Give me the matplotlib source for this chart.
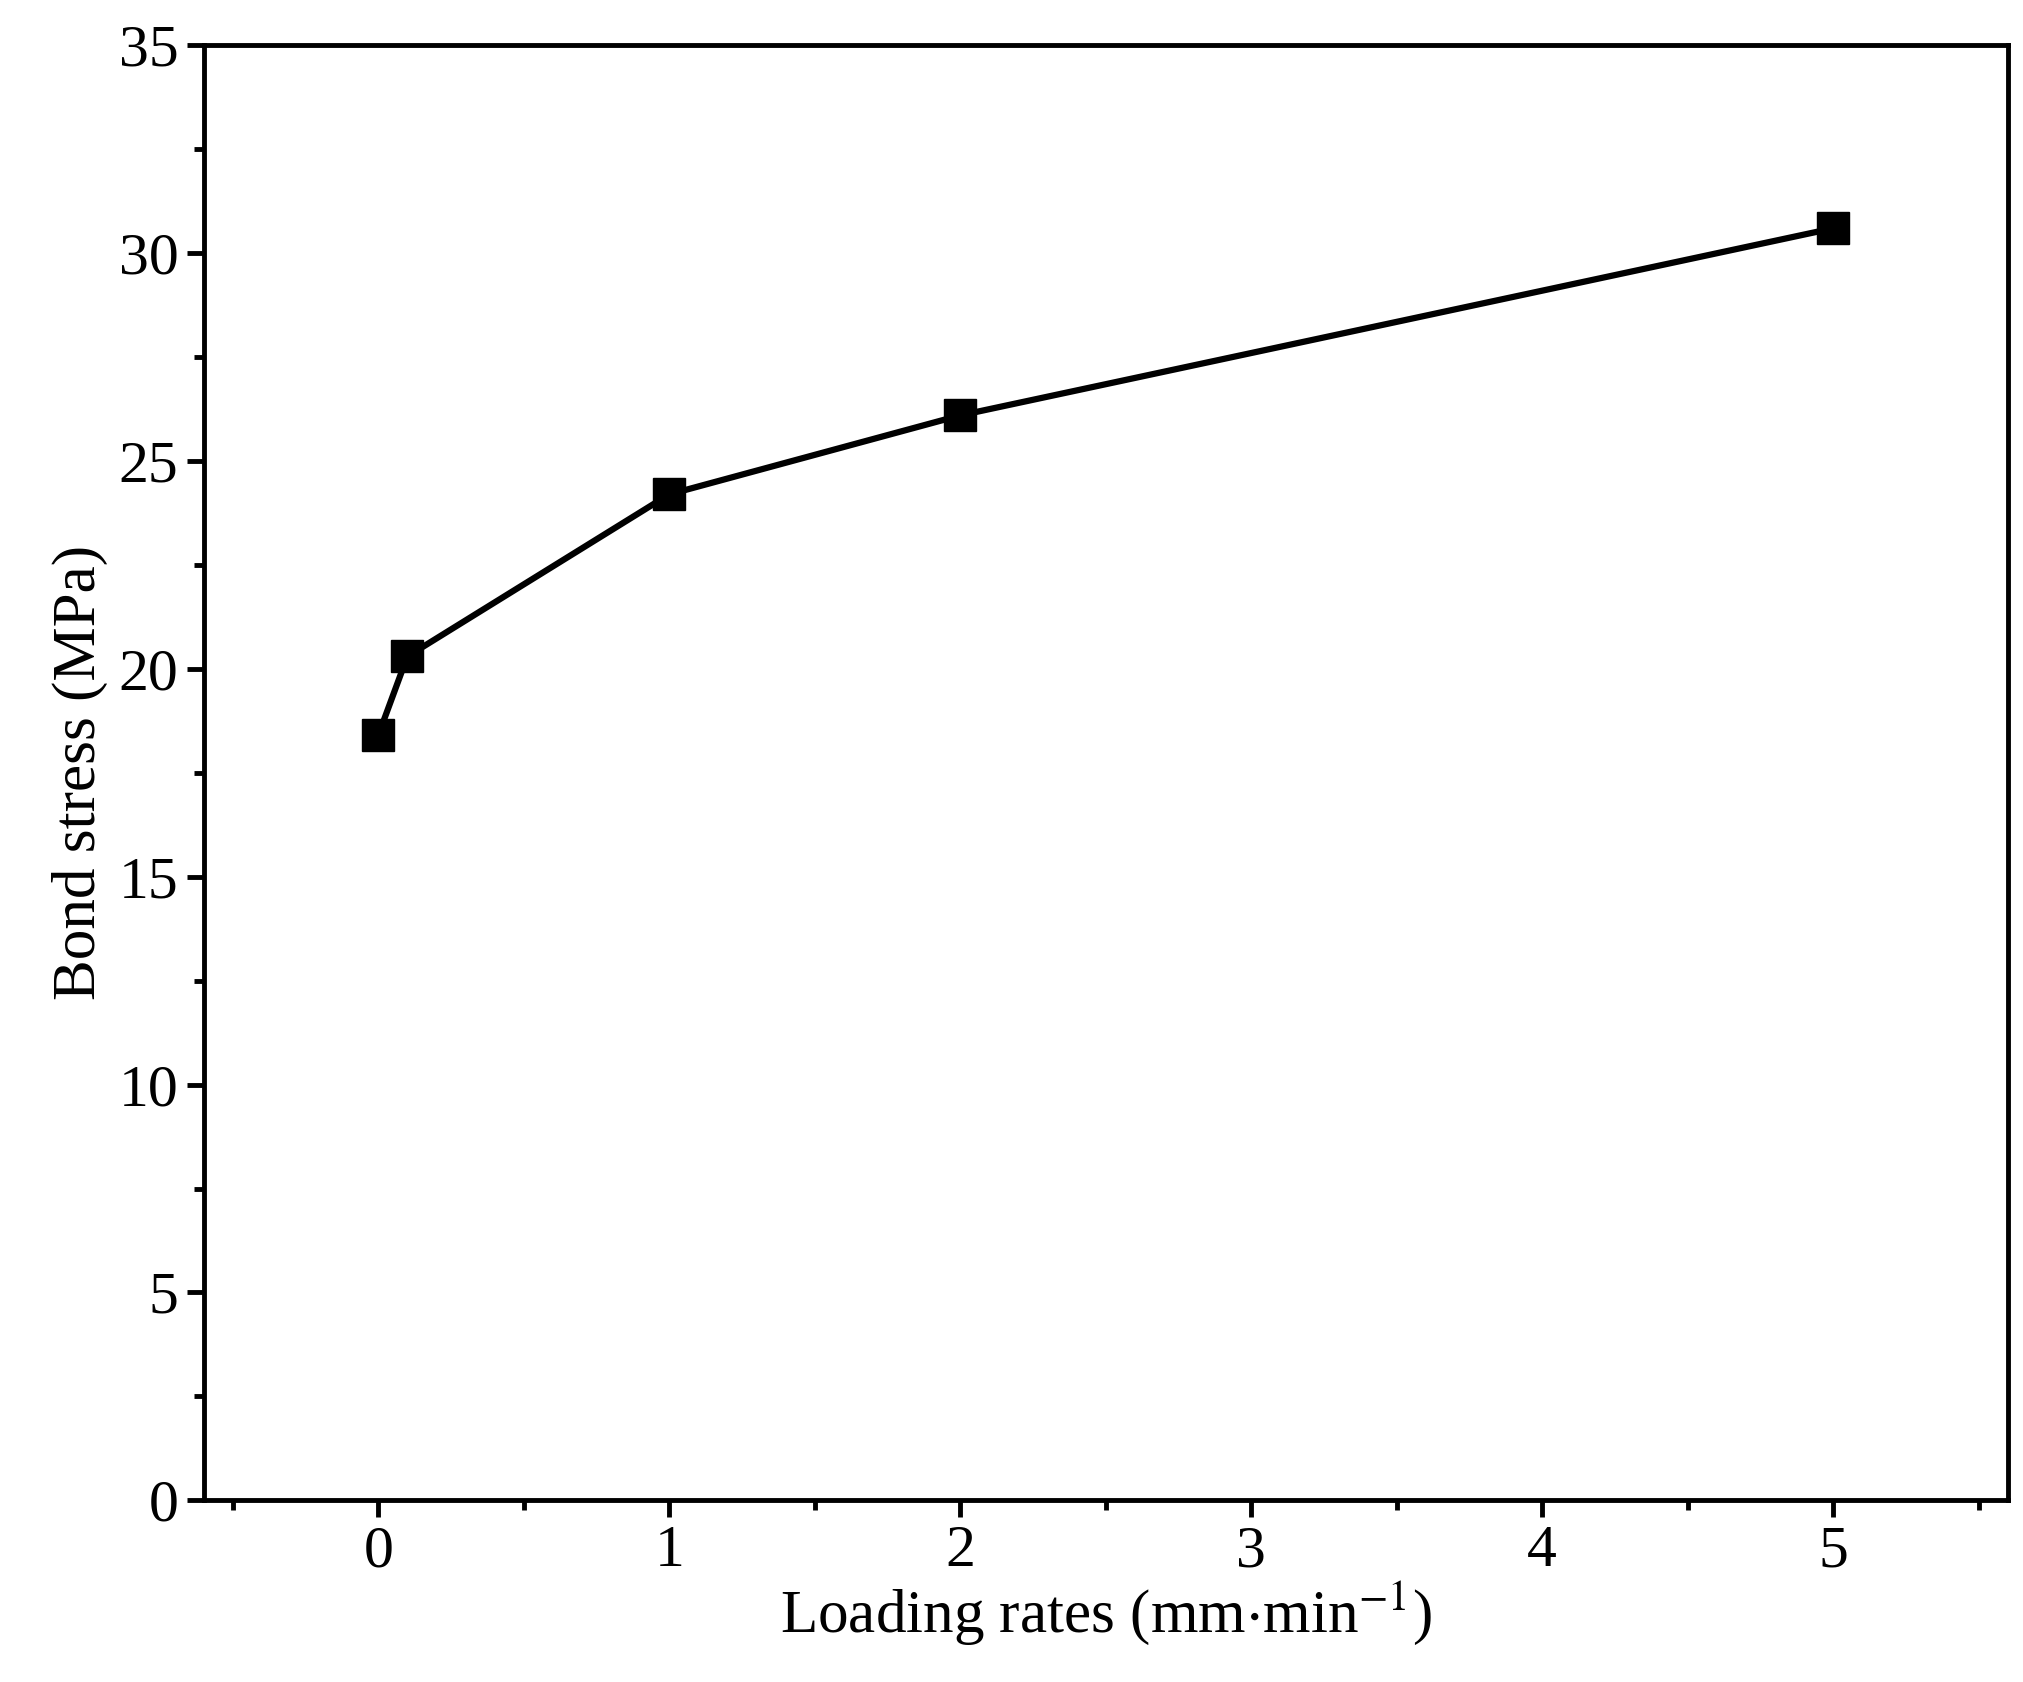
import matplotlib.pyplot as plt
from matplotlib.ticker import MultipleLocator

rates = [0, 0.1, 1, 2, 5]
stress = [18.4, 20.3, 24.2, 26.1, 30.6]

plt.rcParams["font.family"] = ["Liberation Serif", "DejaVu Serif"]
plt.rcParams["mathtext.fontset"] = "stix"

fig = plt.figure(figsize=(20.24, 16.82), dpi=100)
ax = fig.add_axes([0.1006, 0.108, 0.8914, 0.865])
ax.plot(rates, stress, color="black", lw=4.5, marker="s", ms=23)
ax.set_xlim(-0.6, 5.6)
ax.set_ylim(0, 35)
ax.xaxis.set_major_locator(MultipleLocator(1))
ax.xaxis.set_minor_locator(MultipleLocator(0.5))
ax.yaxis.set_major_locator(MultipleLocator(5))
ax.yaxis.set_minor_locator(MultipleLocator(2.5))
ax.tick_params(which="major", length=12, width=3.5, labelsize=43, direction="out", pad=6)
ax.tick_params(which="minor", length=7, width=3.5, direction="out")
for s in ax.spines.values():
    s.set_linewidth(3.5)
ax.set_xlabel(r"Loading rates (mm$\cdot$min$^{-1}$)", fontsize=44, labelpad=0)
ax.set_ylabel("Bond stress (MPa)", fontsize=44, labelpad=8)
fig.savefig("out.png")
